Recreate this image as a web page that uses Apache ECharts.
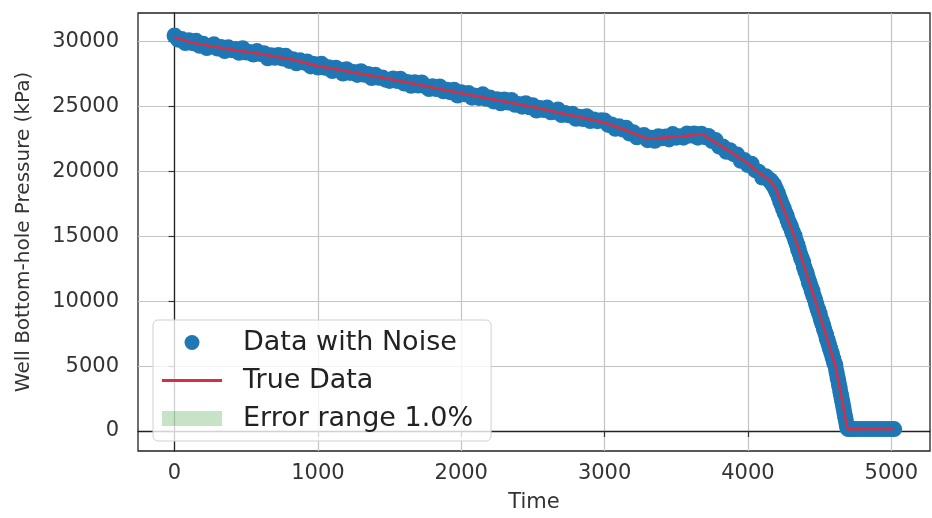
<!DOCTYPE html>
<html>
<head>
<meta charset="utf-8">
<title>Well Bottom-hole Pressure</title>
<script src="https://cdn.jsdelivr.net/npm/echarts@6/dist/echarts.min.js"></script>
<style>
    html, body { margin: 0; padding: 0; background: #fff; }
    #chart { width: 932px; height: 518px; }
</style>
</head>
<body>
<div id="chart"></div>
<script>
// true curve
const trueTime = [0, 120, 350, 600, 820, 1000, 1500, 2000, 2500, 3000, 3150, 3300, 3500, 3680, 3850, 4000, 4063, 4120, 4167, 4200,
    4237, 4280, 4323, 4400, 4470, 4540, 4610, 4660, 4690, 4698, 5020];
const trueValue = [30300, 29900, 29450, 29030, 28600, 28100, 27100, 26000, 24950, 23750, 23150, 22500, 22650, 22850, 21700, 20600, 20000, 19530, 19150, 18500,
    17400, 16200, 15000, 12400, 10000, 7550, 5000, 2150, 400, 130, 150];

// noisy samples
const noiseTime = [
    0, 25, 50, 75, 100, 125, 150, 175, 200, 225, 250, 275, 300, 325, 350, 375, 400, 425, 450, 475,
    500, 525, 550, 575, 600, 625, 650, 675, 700, 725, 750, 775, 800, 825, 850, 875, 900, 925, 950, 975,
    1000, 1025, 1050, 1075, 1100, 1125, 1150, 1175, 1200, 1225, 1250, 1275, 1300, 1325, 1350, 1375, 1400, 1425, 1450, 1475,
    1500, 1525, 1550, 1575, 1600, 1625, 1650, 1675, 1700, 1725, 1750, 1775, 1800, 1825, 1850, 1875, 1900, 1925, 1950, 1975,
    2000, 2025, 2050, 2075, 2100, 2125, 2150, 2175, 2200, 2225, 2250, 2275, 2300, 2325, 2350, 2375, 2400, 2425, 2450, 2475,
    2500, 2525, 2550, 2575, 2600, 2625, 2650, 2675, 2700, 2725, 2750, 2775, 2800, 2825, 2850, 2875, 2900, 2925, 2950, 2975,
    3000, 3025, 3050, 3075, 3100, 3125, 3150, 3175, 3200, 3225, 3250, 3275, 3300, 3325, 3350, 3375, 3400, 3425, 3450, 3475,
    3500, 3525, 3550, 3575, 3600, 3625, 3650, 3675, 3700, 3725, 3750, 3775, 3800, 3825, 3850, 3875, 3900, 3925, 3950, 3975,
    4000, 4025, 4050, 4075, 4100, 4125, 4150,
    4155, 4160, 4165, 4170, 4175, 4180, 4185, 4190, 4195, 4200, 4205, 4210, 4215, 4220, 4225, 4230, 4235, 4240, 4245, 4250,
    4255, 4260, 4265, 4270, 4275, 4280, 4285, 4290, 4295, 4300, 4305, 4310, 4315, 4320, 4325, 4330, 4335, 4340, 4345, 4350,
    4355, 4360, 4365, 4370, 4375, 4380, 4385, 4390, 4395, 4400, 4405, 4410, 4415, 4420, 4425, 4430, 4435, 4440, 4445, 4450,
    4455, 4460, 4465, 4470, 4475, 4480, 4485, 4490, 4495, 4500, 4505, 4510, 4515, 4520, 4525, 4530, 4535, 4540, 4545, 4550,
    4555, 4560, 4565, 4570, 4575, 4580, 4585, 4590, 4595, 4600, 4605, 4610, 4615, 4620, 4625, 4630, 4635, 4640, 4645, 4650,
    4655, 4660, 4665, 4670, 4675, 4680, 4685, 4690, 4695,
    4700, 4725, 4750, 4775, 4800, 4825, 4850, 4875, 4900, 4925, 4950, 4975, 5000, 5020];
const noiseValue = [
    30450, 30130, 30170, 29870, 30090, 29860, 30040, 29650, 29810, 29480, 29660, 29770, 29440, 29560, 29250, 29540, 29320, 29410, 29120, 29470,
    29130, 29180, 28980, 29250, 29020, 29090, 28690, 28930, 28730, 28950, 28680, 28880, 28490, 28620, 28310, 28550, 28360, 28450, 28070, 28250,
    27980, 28270, 27960, 28010, 27710, 27970, 27810, 27520, 27850, 27570, 27640, 27410, 27700, 27420, 27490, 27170, 27430, 27190, 27220, 27040,
    26950, 27140, 26950, 27120, 26760, 26860, 26570, 26850, 26590, 26830, 26540, 26320, 26550, 26330, 26530, 26150, 26270, 26080, 26270, 25830,
    26070, 25930, 26030, 25660, 25800, 25630, 25920, 25580, 25680, 25370, 25540, 25230, 25520, 25290, 25480, 25110, 25180, 24970, 25230, 24920,
    25070, 24670, 24870, 24710, 24900, 24530, 24580, 24760, 24320, 24490, 24310, 24430, 24030, 24200, 24020, 24230, 23860, 23990, 23850, 23920,
    23900, 23560, 23590, 23270, 23470, 23220, 23350, 22900, 23000, 22610, 22730, 22780, 22390, 22580, 22340, 22690, 22530, 22680, 22450, 22860,
    22580, 22700, 22580, 22910, 22750, 22900, 22580, 22890, 22620, 22710, 22320, 22400, 21890, 21900, 21490, 21620, 21310, 21290, 20800, 20860,
    20480, 20580, 20080, 19960, 19510, 19610, 19300,
    19330, 19160, 19190, 19000, 19050, 18870, 18900, 18630, 18630, 18390, 18360, 18290, 17990, 17950, 17660, 17680, 17430, 17370, 17100, 17150,
    16820, 16810, 16600, 16570, 16280, 16220, 15960, 15990, 15750, 15750, 15490, 15270, 15280, 15040, 15030, 14690, 14630, 14380, 14340, 13980,
    14000, 13700, 13600, 13320, 13300, 13060, 13010, 12670, 12600, 12290, 12240, 12150, 11830, 11750, 11440, 11440, 11170, 11080, 10780, 10800,
    10450, 10380, 10160, 10060, 9790, 9670, 9410, 9350, 9110, 9030, 8770, 8540, 8470, 8220, 8150, 7850, 7750, 7520, 7420, 7110,
    7040, 6800, 6650, 6410, 6310, 6080, 5960, 5690, 5560, 5310, 5190, 5050, 4690, 4450, 4100, 3900, 3560, 3320, 2990, 2730,
    2420, 2170, 1850, 1580, 1270, 990, 690, 400, 200,
    150, 145, 155, 150, 148, 152, 150, 147, 153, 150, 149, 151, 150, 150];

const xTicks = [0, 1000, 2000, 3000, 4000, 5000];
const yTicks = [0, 5000, 10000, 15000, 20000, 25000, 30000];
const errorPct = 1.0;

const font = "DejaVu Sans";
const bandColor = "rgba(0,128,0,0.22)";
const chart = echarts.init(document.getElementById("chart"), null, { renderer: "canvas" });

const noisePts = noiseTime.map((t, i) => [t, noiseValue[i]]);
const truePts = trueTime.map((t, i) => [t, trueValue[i]]);
// one quad per segment of the true curve: [t0, low0, high0, t1, low1, high1]
const bandSegs = [];
for (let i = 0; i < trueTime.length - 1; i++) {
    const lo = 1 - errorPct / 100, hi = 1 + errorPct / 100;
    bandSegs.push([trueTime[i], trueValue[i] * lo, trueValue[i] * hi,
        trueTime[i + 1], trueValue[i + 1] * lo, trueValue[i + 1] * hi]);
}
const errName = "Error range " + errorPct.toFixed(1) + "%";

const option = {
    animation: false,
    grid: { left: 138, right: 2, top: 13, bottom: 65, show: true, borderColor: "#222", borderWidth: 1.3, backgroundColor: "transparent" },
    legend: {
        orient: "vertical",
        left: 153,
        top: 320,
        padding: [9, 18, 9, 9],
        itemGap: 11,
        itemWidth: 60,
        itemHeight: 15,
        backgroundColor: "rgba(255,255,255,0.8)",
        borderColor: "#d0d0d0",
        borderWidth: 1,
        borderRadius: 5,
        textStyle: { fontFamily: font, fontSize: 27, color: "#222", padding: [0, 0, 0, 16] },
        data: [
            { name: "Data with Noise", icon: "circle", itemStyle: { color: "#1f77b4" } },
            { name: "True Data", icon: "path://M0,0 L60,0 L60,3 L0,3 Z", itemStyle: { color: "#d62f45" } },
            { name: errName, icon: "rect", itemStyle: { color: bandColor } }
        ]
    },
    xAxis: {
        type: "value",
        min: -255,
        max: 5270,
        name: "Time",
        nameLocation: "middle",
        nameGap: 41,
        nameTextStyle: { fontFamily: font, fontSize: 21, color: "#333" },
        axisLine: { show: true, lineStyle: { color: "#222", width: 1.3 } },
        axisTick: { show: true, inside: false, length: 6, customValues: xTicks, lineStyle: { color: "#333", width: 1.2 } },
        axisLabel: { customValues: xTicks, formatter: v => String(v), margin: 12, fontFamily: font, fontSize: 21, color: "#333" },
        splitLine: { show: true, lineStyle: { color: "#c4c4c4", width: 1.2 } }
    },
    yAxis: {
        type: "value",
        min: -1540,
        max: 32180,
        name: "Well Bottom-hole Pressure (kPa)",
        nameLocation: "middle",
        nameGap: 104,
        nameTextStyle: { fontFamily: font, fontSize: 20, color: "#333" },
        axisLine: { show: true, lineStyle: { color: "#222", width: 1.3 } },
        axisTick: { show: true, inside: false, length: 6, customValues: yTicks, lineStyle: { color: "#333", width: 1.2 } },
        axisLabel: { customValues: yTicks, formatter: v => String(v), margin: 19, fontFamily: font, fontSize: 21, color: "#333" },
        splitLine: { show: true, lineStyle: { color: "#c4c4c4", width: 1.2 } }
    },
    series: [
        {
            name: errName, type: "custom", data: bandSegs, z: 1, silent: true,
            itemStyle: { color: bandColor },
            encode: { x: [0, 3], y: [1, 2, 4, 5] },
            renderItem: (params, api) => ({
                type: "polygon",
                shape: {
                    points: [
                        api.coord([api.value(0), api.value(1)]),
                        api.coord([api.value(3), api.value(4)]),
                        api.coord([api.value(3), api.value(5)]),
                        api.coord([api.value(0), api.value(2)])
                    ]
                },
                style: { fill: bandColor }
            })
        },
        {
            name: "Data with Noise", type: "scatter", data: noisePts, symbolSize: 16, z: 2,
            itemStyle: { color: "#1f77b4", opacity: 1 }, emphasis: { disabled: true }
        },
        {
            name: "True Data", type: "line", data: truePts, symbol: "none", z: 3,
            lineStyle: { color: "#d62f45", width: 2.5 }, itemStyle: { color: "#d62f45" }
        }
    ]
};
chart.setOption(option);
window.addEventListener("resize", () => chart.resize());
</script>
</body>
</html>
